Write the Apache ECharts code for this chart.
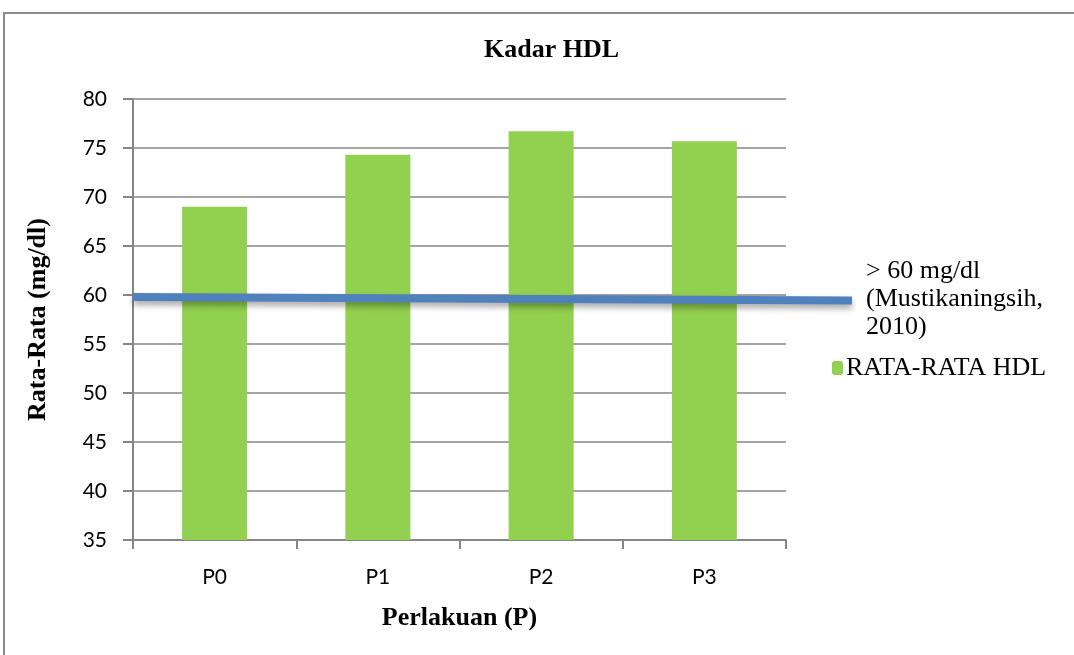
<!DOCTYPE html>
<html>
<head>
<meta charset="utf-8">
<script src="https://cdn.jsdelivr.net/npm/echarts@6/dist/echarts.min.js"></script>
<style>
  html, body { margin: 0; padding: 0; background: #fff; }
  #chart { width: 1074px; height: 655px; }
</style>
</head>
<body>
<div id="chart"></div>
<script>
// data
const categories = ['P0', 'P1', 'P2', 'P3'];
const hdlValues = [69.0, 74.3, 76.7, 75.7];
const refLineX = [0, 1];
const refLineY = [59.8, 59.45];
const yTicks = { min: 35, max: 80, step: 5 };

const barName = 'RATA-RATA HDL';
const lineName = '> 60 mg/dl\n(Mustikaningsih,\n2010)';

const serif = 'Liberation Serif';
const chart = echarts.init(document.getElementById('chart'));

chart.setOption({
  animation: false,
  title: {
    text: 'Kadar HDL',
    left: 484,
    top: 37,
    padding: 0,
    textStyle: { fontFamily: serif, fontWeight: 'bold', fontSize: 26, color: '#000' }
  },
  graphic: [{
    type: 'rect',
    shape: { x: 4, y: 13, width: 1090, height: 700 },
    style: { fill: 'none', stroke: '#8c8c8c', lineWidth: 2 },
    silent: true
  }],
  legend: [{
    data: [{ name: lineName, icon: 'none' }],
    left: 856,
    top: 252,
    itemWidth: 0,
    itemGap: 0,
    textStyle: { fontFamily: serif, fontSize: 26, color: '#000', lineHeight: 28 }
  }, {
    data: [barName],
    left: 827,
    top: 350,
    itemWidth: 11,
    itemHeight: 14,
    itemGap: 2,
    textStyle: { fontFamily: serif, fontSize: 26, color: '#000', padding: [0, 0, 0, -2] }
  }],
  grid: [
    { left: 133, right: 288, top: 99, bottom: 115 },
    { left: 133, right: 222, top: 99, bottom: 115 }
  ],
  xAxis: [{
    type: 'category',
    gridIndex: 0,
    data: categories,
    name: 'Perlakuan (P)',
    nameLocation: 'middle',
    nameGap: 65,
    nameTextStyle: { fontFamily: serif, fontWeight: 'bold', fontSize: 26, color: '#000' },
    axisLine: { lineStyle: { color: '#868686', width: 2 } },
    axisTick: { show: true, length: 9, lineStyle: { color: '#868686', width: 2 } },
    axisLabel: { fontFamily: 'Lato', fontSize: 21, color: '#000', margin: 27 }
  }, {
    type: 'value',
    gridIndex: 1,
    min: 0,
    max: 1,
    show: false
  }],
  yAxis: [{
    type: 'value',
    gridIndex: 0,
    min: yTicks.min,
    max: yTicks.max,
    interval: yTicks.step,
    name: 'Rata-Rata (mg/dl)',
    nameLocation: 'middle',
    nameRotate: 90,
    nameGap: 82,
    nameTextStyle: { fontFamily: serif, fontWeight: 'bold', fontSize: 26, color: '#000' },
    axisLine: { show: true, lineStyle: { color: '#868686', width: 2 } },
    axisTick: { show: true, length: 10, lineStyle: { color: '#868686', width: 2 } },
    axisLabel: { fontFamily: 'Lato', fontSize: 21, color: '#000', margin: 26 },
    splitLine: { lineStyle: { color: '#868686', width: 1.5 } }
  }, {
    type: 'value',
    gridIndex: 1,
    min: yTicks.min,
    max: yTicks.max,
    show: false
  }],
  series: [{
    name: barName,
    type: 'bar',
    xAxisIndex: 0,
    yAxisIndex: 0,
    data: hdlValues,
    barWidth: 65,
    itemStyle: { color: '#92D050' }
  }, {
    name: lineName,
    type: 'line',
    xAxisIndex: 1,
    yAxisIndex: 1,
    data: refLineX.map((x, i) => [x, refLineY[i]]),
    symbol: 'none',
    z: 5,
    lineStyle: {
      color: '#4F81BD',
      width: 8,
      cap: 'butt',
      shadowColor: 'rgba(0,0,0,0.35)',
      shadowBlur: 6,
      shadowOffsetY: 4
    }
  }]
});
</script>
</body>
</html>
